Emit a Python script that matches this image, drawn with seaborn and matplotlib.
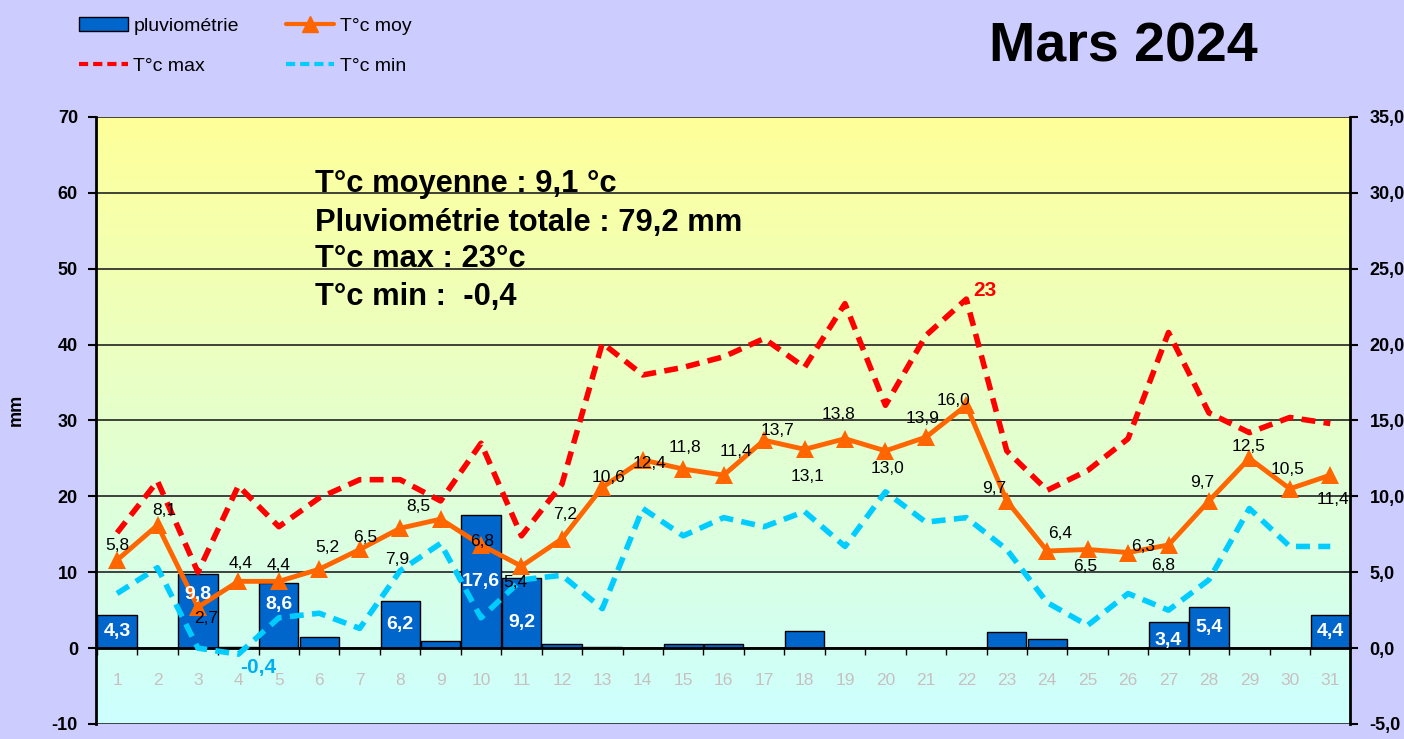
import numpy as np
import pandas as pd
import matplotlib
matplotlib.use("Agg")
import matplotlib.pyplot as plt
import seaborn as sns
from matplotlib.colors import LinearSegmentedColormap
from matplotlib.lines import Line2D
from matplotlib.patches import Patch
from matplotlib.ticker import FuncFormatter, MultipleLocator

# données de mars 2024
jours = list(range(1, 32))
pluie = [4.3, 0, 9.8, 0.2, 8.6, 1.5, 0, 6.2, 1.0, 17.6,
         9.2, 0.6, 0.2, 0, 0.6, 0.6, 0, 2.3, 0, 0,
         0, 0, 2.1, 1.2, 0, 0, 3.4, 5.4, 0, 0, 4.4]
t_moy = [5.8, 8.1, 2.7, 4.4, 4.4, 5.2, 6.5, 7.9, 8.5, 6.8,
         5.4, 7.2, 10.6, 12.4, 11.8, 11.4, 13.7, 13.1, 13.8, 13.0,
         13.9, 16.0, 9.7, 6.4, 6.5, 6.3, 6.8, 9.7, 12.5, 10.5, 11.4]
t_max = [7.6, 11.0, 5.0, 10.7, 8.0, 9.9, 11.1, 11.1, 9.7, 13.5,
         7.4, 10.8, 20.1, 18.0, 18.5, 19.2, 20.4, 18.5, 22.7, 16.0,
         20.6, 23.0, 13.0, 10.4, 11.7, 13.8, 20.8, 15.5, 14.2, 15.2, 14.8]
t_min = [3.6, 5.3, 0.0, -0.4, 2.0, 2.3, 1.3, 5.1, 6.9, 2.0,
         4.5, 4.8, 2.6, 9.2, 7.4, 8.6, 8.0, 9.0, 6.7, 10.3,
         8.3, 8.6, 6.5, 3.0, 1.5, 3.6, 2.5, 4.5, 9.2, 6.7, 6.7]

df = pd.DataFrame({"jour": jours, "pluie": pluie, "tmoy": t_moy,
                   "tmax": t_max, "tmin": t_min})

def virgule(v, dec=1):
    return f"{v:.{dec}f}".replace(".", ",")

# décalage des étiquettes T moy (pixels, vers le haut = positif)
decal_moy = [(0, 15), (7, 15), (8, -11), (2, 18), (0, 16), (8, 22), (5, 12), (-3, -31),
             (-22, 13), (1, 3), (-6, -16), (3, 24), (6, 10), (7, -4), (2, 22), (12, 24),
             (13, 10), (3, -27), (-6, 24), (2, -18), (-3, 19), (-13, 5), (-13, 12), (13, 17),
             (-2, -17), (15, 6), (-5, -21), (-7, 18), (-1, 12), (-2, 19), (3, -24)]
decal_barres = {3: 16, 5: 11, 11: -9, 27: -5}

sns.set_theme(style="ticks")
plt.rcParams["font.family"] = ["Liberation Sans", "DejaVu Sans"]
plt.rcParams["axes.unicode_minus"] = False
for cle in ["text.color", "axes.labelcolor", "xtick.color", "ytick.color", "axes.edgecolor"]:
    plt.rcParams[cle] = "black"

fig = plt.figure(figsize=(14.04, 7.39), dpi=100)
fig.patch.set_facecolor("#CCCCFF")
ax = fig.add_axes([0.0684, 0.0203, 0.8932, 0.8214])

# fond dégradé jaune -> turquoise
fond = LinearSegmentedColormap.from_list("fond", ["#FFFF99", "#CCFFFF"])
ax.imshow(np.linspace(0, 1, 256).reshape(-1, 1), cmap=fond, aspect="auto",
          extent=(0, 1, 0, 1), transform=ax.transAxes, zorder=0)

sns.barplot(data=df, x="jour", y="pluie", native_scale=True, orient="x", width=0.97,
            color="#0066CC", saturation=1, edgecolor="black", linewidth=1,
            errorbar=None, ax=ax, zorder=2)

ax.set_xlim(0.48, 31.49)
ax.set_ylim(-10, 70)
ax.yaxis.set_major_locator(MultipleLocator(10))
ax.set_axisbelow(True)
ax.yaxis.grid(True, color="#222222", linewidth=1.2, zorder=1)
ax.set_xticks(jours)
ax.set_xticklabels([str(j) for j in jours])
ax.xaxis.set_minor_locator(MultipleLocator(1, offset=0.5))
ax.spines["bottom"].set_position(("data", 0))
ax.spines["bottom"].set_linewidth(2)
ax.spines["left"].set_linewidth(2)
ax.spines["top"].set_visible(False)
ax.spines["right"].set_visible(False)
ax.tick_params(axis="x", which="major", length=0, labelsize=12.5, labelcolor="#C8C0C0", pad=18)
ax.tick_params(axis="x", which="minor", length=5, width=1, direction="out", color="black")
ax.tick_params(axis="y", length=6, width=1.5, direction="out", labelsize=13, pad=7)
for lab in ax.get_yticklabels():
    lab.set_fontweight("bold")
ax.set_xlabel("")
ax.set_ylabel("mm", fontsize=13, fontweight="bold")
ax.yaxis.set_label_coords(-0.0566, 0.517)

# axe des températures
ax2 = ax.twinx()
tirets = (0, (2.5, 1.5))
sns.lineplot(data=df, x="jour", y="tmin", ax=ax2, color="#00CCFF", linewidth=4,
             linestyle=tirets, legend=False)
sns.lineplot(data=df, x="jour", y="tmax", ax=ax2, color="#FF0000", linewidth=4,
             linestyle=tirets, legend=False)
sns.lineplot(data=df, x="jour", y="tmoy", ax=ax2, color="#FF6600", linewidth=3.5,
             marker="^", markersize=12.5, markeredgecolor="#FF6600", markeredgewidth=0,
             legend=False)
ax2.set_ylim(-5, 35)
ax2.set_xlim(0.48, 31.49)
ax2.yaxis.set_major_locator(MultipleLocator(5))
ax2.yaxis.set_major_formatter(FuncFormatter(lambda v, p: virgule(v)))
for s in ["top", "left", "bottom"]:
    ax2.spines[s].set_visible(False)
ax2.spines["right"].set_linewidth(2)
ax2.tick_params(axis="y", length=6, width=1.5, direction="out", labelsize=13, pad=8)
for lab in ax2.get_yticklabels():
    lab.set_fontweight("bold")
ax2.set_ylabel("")
ax2.set_xlabel("")

# étiquettes
for j, v, d in zip(jours, t_moy, decal_moy):
    ax2.annotate(virgule(v), xy=(j, v), xytext=d, textcoords="offset pixels",
                 ha="center", va="center", fontsize=12.5, color="black", zorder=5)

for j, barre in zip(jours, ax.patches):
    h = barre.get_height()
    if h >= 3:
        ax2.annotate(virgule(h), xy=(barre.get_x() + barre.get_width() / 2, h / 2),
                     xycoords=ax.transData, xytext=(0, decal_barres.get(j, 0)),
                     textcoords="offset pixels", ha="center", va="center",
                     fontsize=14, fontweight="bold", color="white", zorder=6)

i_max = int(np.argmax(t_max))
ax2.annotate(virgule(t_max[i_max], 0), xy=(jours[i_max], t_max[i_max]), xytext=(19, 9),
             textcoords="offset pixels", ha="center", va="center", fontsize=15,
             fontweight="bold", color="#FF0000", zorder=6)
i_min = int(np.argmin(t_min))
ax2.annotate(virgule(t_min[i_min]), xy=(jours[i_min], t_min[i_min]), xytext=(20, -13),
             textcoords="offset pixels", ha="center", va="center", fontsize=15,
             fontweight="bold", color="#00B0F0", zorder=6)

# bloc de synthèse
resume = [f"T°c moyenne : {virgule(np.mean(t_moy))} °c",
          f"Pluviométrie totale : {virgule(sum(pluie))} mm",
          f"T°c max : {virgule(max(t_max), 0)}°c",
          f"T°c min :  {virgule(min(t_min))}"]
for texte, yb in zip(resume, [192, 231, 267, 305]):
    fig.text(315 / 1404, 1 - yb / 739, texte, fontsize=22.2, fontweight="bold",
             va="baseline", ha="left", color="black")

fig.text(1123 / 1404, 1 - 62 / 739, "Mars 2024", fontsize=40, fontweight="bold",
         ha="center", va="baseline", color="black")

poignees = [Patch(facecolor="#0066CC", edgecolor="black"),
            Line2D([], [], color="#FF0000", linewidth=3, linestyle=(0, (2.2, 1.2))),
            Line2D([], [], color="#FF6600", linewidth=3, marker="^", markersize=12),
            Line2D([], [], color="#00CCFF", linewidth=3, linestyle=(0, (2.2, 1.2)))]
fig.legend(poignees, ["pluviométrie", "T°c max", "T°c moy", "T°c min"],
           loc="upper left", bbox_to_anchor=(79 / 1404, 1 - 17 / 739), ncol=2,
           frameon=False, fontsize=14, numpoints=1, handlelength=2.5,
           handletextpad=0.3, columnspacing=2.4, labelspacing=1.15, borderpad=0,
           borderaxespad=0)

fig.savefig("out.png", dpi=100, facecolor=fig.get_facecolor())
